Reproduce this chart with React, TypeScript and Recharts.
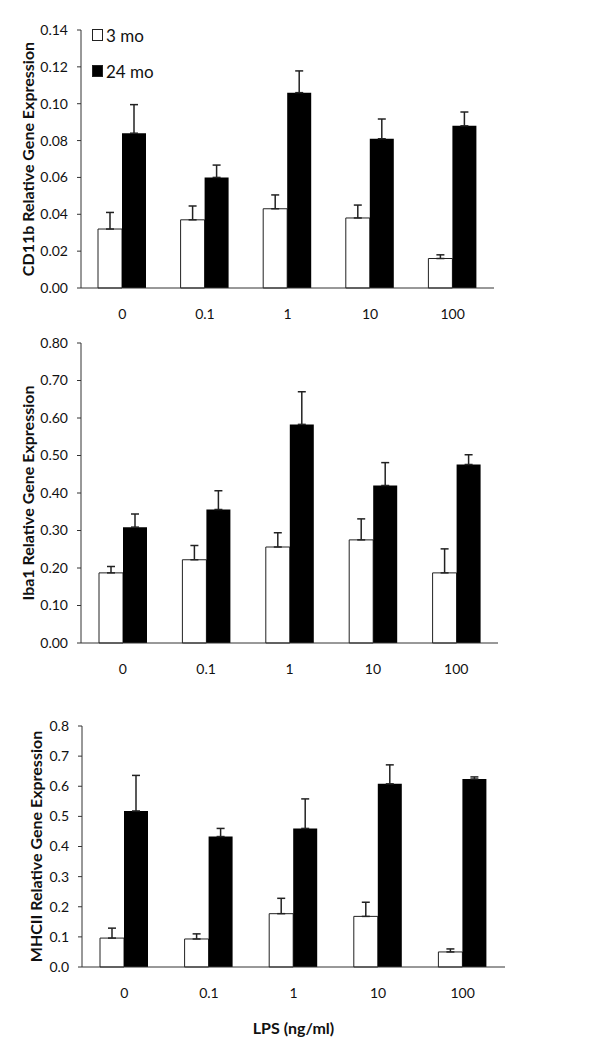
import React from "react";
import { Bar, BarChart, ErrorBar, Legend, XAxis, YAxis } from "recharts";

const doses = ["0", "0.1", "1", "10", "100"];
const edgeTicks = [0, 1, 2, 3, 4, 5];

// CD11b
const cd11bYoung = [0.032, 0.037, 0.043, 0.038, 0.016];
const cd11bYoungErr = [0.009, 0.0075, 0.0075, 0.007, 0.002];
const cd11bOld = [0.084, 0.06, 0.106, 0.081, 0.088];
const cd11bOldErr = [0.0155, 0.0067, 0.0118, 0.0107, 0.0075];
const cd11bTicks = [0, 0.02, 0.04, 0.06, 0.08, 0.1, 0.12, 0.14];

// Iba1
const iba1Young = [0.187, 0.222, 0.256, 0.275, 0.187];
const iba1YoungErr = [0.017, 0.038, 0.038, 0.056, 0.064];
const iba1Old = [0.309, 0.356, 0.583, 0.42, 0.476];
const iba1OldErr = [0.035, 0.05, 0.087, 0.061, 0.026];
const iba1Ticks = [0, 0.1, 0.2, 0.3, 0.4, 0.5, 0.6, 0.7, 0.8];

// MHCII
const mhcYoung = [0.096, 0.093, 0.177, 0.168, 0.05];
const mhcYoungErr = [0.033, 0.017, 0.051, 0.047, 0.01];
const mhcOld = [0.518, 0.433, 0.46, 0.608, 0.624];
const mhcOldErr = [0.118, 0.027, 0.098, 0.063, 0.007];
const mhcTicks = [0, 0.1, 0.2, 0.3, 0.4, 0.5, 0.6, 0.7, 0.8];

const FONT = "Lato, 'Open Sans', sans-serif";
const AXIS = "#333";

function rows(young: number[], youngErr: number[], old: number[], oldErr: number[]) {
  return doses.map((dose, i) => ({
    dose,
    young: young[i],
    youngErr: [0, youngErr[i]],
    old: old[i],
    oldErr: [0, oldErr[i]],
  }));
}

function LegendBox() {
  const item = (fill: string, text: string) => (
    <div style={{ display: "flex", alignItems: "center", height: 36 }}>
      <span
        style={{
          display: "inline-block",
          width: 9,
          height: 10,
          background: fill,
          border: "1px solid #222",
          marginRight: 3,
        }}
      />
      <span style={{ fontFamily: FONT, fontSize: 17, color: "#111" }}>{text}</span>
    </div>
  );
  return (
    <div>
      {item("#fff", "3 mo")}
      {item("#000", "24 mo")}
    </div>
  );
}

type PanelProps = {
  top: number;
  height: number;
  margin: { top: number; right: number; bottom: number; left: number };
  yWidth: number;
  data: ReturnType<typeof rows>;
  ticks: number[];
  digits: number;
  title: string;
  titleX: number;
  showLegend?: boolean;
  xTitle?: string;
  catHeight: number;
};

function Panel(p: PanelProps) {
  return (
    <div style={{ position: "absolute", left: 0, top: p.top }}>
      <BarChart width={616} height={p.height} data={p.data} margin={p.margin} barSize={24} barGap={0}>
        <XAxis
          xAxisId="a_edge"
          type="number"
          domain={[0, 5]}
          ticks={edgeTicks}
          allowDataOverflow
          tick={false}
          tickSize={5}
          height={6}
          stroke={AXIS}
        />
        <XAxis
          xAxisId="b_cat"
          dataKey="dose"
          axisLine={false}
          tickLine={false}
          tickSize={0}
          tickMargin={15}
          height={p.catHeight}
          tick={{ fill: "#111", fontSize: 14, fontFamily: FONT }}
          label={
            p.xTitle
              ? {
                  value: p.xTitle,
                  position: "insideBottom",
                  offset: 16,
                  style: { fill: "#111", fontSize: 16, fontWeight: 700, fontFamily: FONT },
                }
              : undefined
          }
        />
        <YAxis
          width={p.yWidth}
          domain={[p.ticks[0], p.ticks[p.ticks.length - 1]]}
          ticks={p.ticks}
          interval={0}
          tickSize={4}
          tickMargin={9}
          stroke={AXIS}
          tick={{ fill: "#111", fontSize: 14, fontFamily: FONT }}
          tickFormatter={(v: number) => v.toFixed(p.digits)}
          label={{
            content: (props: any) => {
              const vb = props.viewBox || { x: 0, y: 0, height: 0 };
              const cx = vb.x + p.titleX;
              const cy = vb.y + vb.height / 2;
              return (
                <text
                  x={cx}
                  y={cy}
                  transform={`rotate(-90 ${cx} ${cy})`}
                  textAnchor="middle"
                  dominantBaseline="central"
                  style={{ fill: "#111", fontSize: 16, fontWeight: 700, fontFamily: FONT }}
                >
                  {p.title}
                </text>
              );
            },
          }}
        />
        {p.showLegend && (
          <Legend
            layout="vertical"
            align="center"
            verticalAlign="middle"
            content={() => <LegendBox />}
            wrapperStyle={{ left: 92, top: 17, width: 120 }}
          />
        )}
        <Bar
          xAxisId="b_cat"
          dataKey="young"
          name="3 mo"
          fill="#fff"
          stroke="#222"
          strokeWidth={1}
          isAnimationActive={false}
        >
          <ErrorBar dataKey="youngErr" direction="y" width={4} stroke="#222" strokeWidth={1.5} />
        </Bar>
        <Bar xAxisId="b_cat" dataKey="old" name="24 mo" fill="#000" isAnimationActive={false}>
          <ErrorBar dataKey="oldErr" direction="y" width={4} stroke="#222" strokeWidth={1.5} />
        </Bar>
      </BarChart>
    </div>
  );
}

export default function App() {
  return (
    <div
      style={{
        position: "absolute",
        left: 0,
        top: 0,
        width: 616,
        height: 1050,
        background: "#fff",
        overflow: "hidden",
      }}
    >
      <Panel
        top={0}
        height={330}
        margin={{ top: 30, right: 122, bottom: 0, left: 0 }}
        yWidth={81}
        catHeight={36}
        data={rows(cd11bYoung, cd11bYoungErr, cd11bOld, cd11bOldErr)}
        ticks={cd11bTicks}
        digits={2}
        title="CD11b Relative Gene Expression"
        titleX={27}
        showLegend
      />
      <Panel
        top={330}
        height={350}
        margin={{ top: 13, right: 118, bottom: 0, left: 0 }}
        yWidth={81}
        catHeight={31}
        data={rows(iba1Young, iba1YoungErr, iba1Old, iba1OldErr)}
        ticks={iba1Ticks}
        digits={2}
        title="Iba1 Relative Gene Expression"
        titleX={27}
      />
      <Panel
        top={680}
        height={370}
        margin={{ top: 46, right: 111, bottom: 0, left: 0 }}
        yWidth={82}
        catHeight={77}
        data={rows(mhcYoung, mhcYoungErr, mhcOld, mhcOldErr)}
        ticks={mhcTicks}
        digits={1}
        title="MHCII Relative Gene Expression"
        titleX={35}
        xTitle="LPS (ng/ml)"
      />
    </div>
  );
}
